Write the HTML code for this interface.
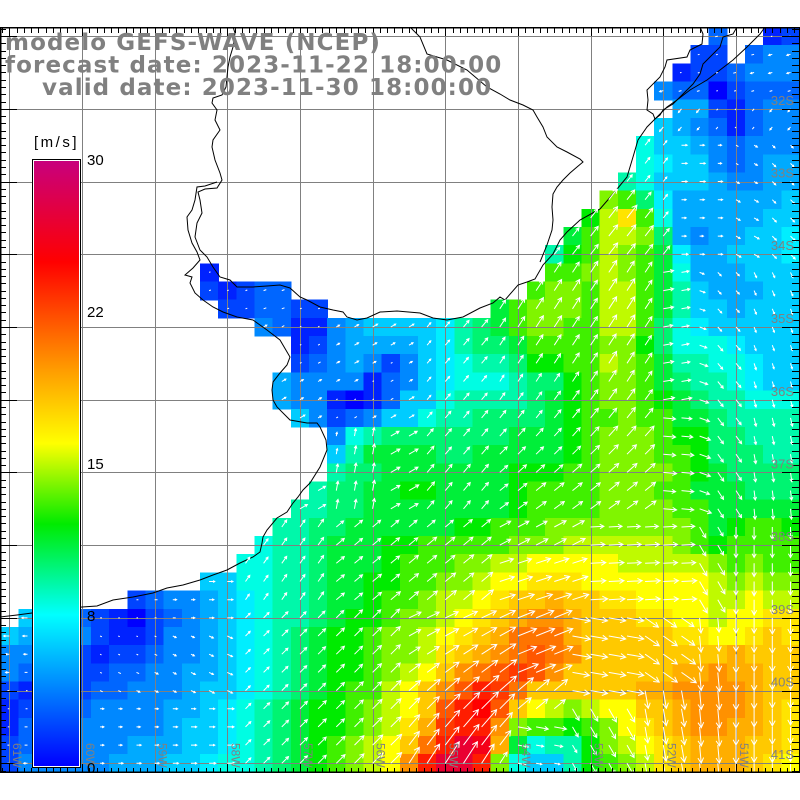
<!DOCTYPE html>
<html><head><meta charset="utf-8">
<style>
html,body{margin:0;padding:0;background:#fff;width:800px;height:800px;overflow:hidden}
svg{display:block}
</style></head>
<body>
<svg id="s" width="800" height="800" viewBox="0 0 800 800" xmlns="http://www.w3.org/2000/svg">
<defs>
<clipPath id="mc"><rect x="0" y="27" width="800" height="745"/></clipPath>
<linearGradient id="cb" x1="0" y1="1" x2="0" y2="0">
 <stop offset="0" stop-color="rgb(0,0,255)"/>
 <stop offset="0.25" stop-color="rgb(0,255,255)"/>
 <stop offset="0.4" stop-color="rgb(0,235,0)"/>
 <stop offset="0.5333" stop-color="rgb(255,255,0)"/>
 <stop offset="0.65" stop-color="rgb(255,160,0)"/>
 <stop offset="0.8333" stop-color="rgb(255,0,0)"/>
 <stop offset="1" stop-color="rgb(200,0,125)"/>
</linearGradient>
</defs>
<rect x="0" y="0" width="800" height="800" fill="#fff"/>
<g id="cells" clip-path="url(#mc)" shape-rendering="crispEdges"></g>
<path id="grid" fill="none" stroke="#808080" stroke-width="1" shape-rendering="crispEdges" d=""/>
<g fill="none" stroke="#000" stroke-width="1" clip-path="url(#mc)">
<polyline points="233,27 235,33 233,47 230,57 228,67 227,77 226,87 222,95 213,98 212,103 217,110 215,120 220,130 213,140 212,147 215,160 220,173 222,180 217,188 205,189 198,192 200,200 202,213 197,223 195,237 200,250 207,257 213,267 220,277 230,280 237,287 253,287 267,286 280,285 290,288 300,297 307,300 320,307 333,310 343,312 347,317 357,320 367,318 380,312 397,311 420,313 433,318 447,320 463,317 480,308 493,303 500,297 505,300 518,285 527,282 535,279 543,265 553,254 560,240 567,232 580,220 600,209 613,194 627,177 633,157 638,140 647,127 657,117 667,107 677,100 690,90 707,80 720,70 733,60 747,47 760,34 765,27"/>
<polyline points="217,182 205,186 197,187 195,200 192,210 187,217 188,230 192,243 197,252 200,260 193,268 185,275 192,277 190,283 195,293 203,300 213,307 223,312 237,317 253,320 267,330 280,340 290,357 287,365 280,373 273,382 272,390 273,400 277,407 290,420 307,423 317,423 320,427 326,440 327,450 320,467 310,483 303,490 298,497 293,503 287,512 277,518 267,530 263,537 262,543 260,552 253,557 240,563 227,570 213,575 200,580 183,585 167,588 153,593 133,597 113,600 97,606 82,607 32,613 17,615 0,617"/>
<polyline points="410,27 420,37 427,54 447,60 467,70 487,87 500,94 510,100 523,105 533,110 537,117 543,127 547,137 557,147 567,152 580,159 583,162 577,167 570,173 563,180 557,187 553,194 552,207 553,220 552,230 547,245 540,262"/>
<polyline points="700,27 703,34 702,44 690,50 687,57 667,60 665,67 660,77 647,90 648,100 647,110 653,114 655,119 660,115 663,110 673,104 683,94 693,84 700,74 703,64 713,54 720,47 723,37 733,34 737,27"/>
</g>
<path id="arr" clip-path="url(#mc)" fill="none" stroke="#fff" stroke-width="1" d=""/>
<path id="ticks" fill="none" stroke="#000" stroke-width="1" shape-rendering="crispEdges" d=""/>
<path fill="none" stroke="#000" stroke-width="1.5" shape-rendering="crispEdges" d="M0 27.5H800M0 772H800M0.5 27V772M799.5 27V772"/>
<g fill="#808080" font-family="Liberation Sans, DejaVu Sans, sans-serif" font-size="13" text-anchor="end">
<text x="794" y="105">32S</text><text x="794" y="177.5">33S</text><text x="794" y="250">34S</text><text x="794" y="323">35S</text><text x="794" y="396">36S</text><text x="794" y="468.5">37S</text><text x="794" y="541">38S</text><text x="794" y="614">39S</text><text x="794" y="686.5">40S</text><text x="794" y="759">41S</text>
</g>
<g fill="#808080" font-family="Liberation Sans, DejaVu Sans, sans-serif" font-size="12">
<text transform="translate(13,743) rotate(90)">61W</text>
<text transform="translate(86,743) rotate(90)">60W</text>
<text transform="translate(158.6,743) rotate(90)">59W</text>
<text transform="translate(231.3,743) rotate(90)">58W</text>
<text transform="translate(304,743) rotate(90)">57W</text>
<text transform="translate(376.6,743) rotate(90)">56W</text>
<text transform="translate(449.3,743) rotate(90)">55W</text>
<text transform="translate(522,743) rotate(90)">54W</text>
<text transform="translate(594.6,743) rotate(90)">53W</text>
<text transform="translate(667.3,743) rotate(90)">52W</text>
<text transform="translate(740,743) rotate(90)">51W</text>
</g>
<rect x="32.5" y="159.5" width="48" height="608" fill="#fff" stroke="#000" stroke-width="1"/>
<rect x="34" y="161" width="45" height="605" fill="url(#cb)"/>
<g fill="#000" font-family="Liberation Sans, DejaVu Sans, sans-serif" font-size="15">
<text x="34" y="147" letter-spacing="2.5">[m/s]</text>
<text x="87" y="165">30</text>
<text x="87" y="317">22</text>
<text x="87" y="469">15</text>
<text x="87" y="621">8</text>
<text x="87" y="773">0</text>
</g>
<g fill="#808080" font-family="DejaVu Sans, Liberation Sans, sans-serif" font-weight="bold" font-size="23" letter-spacing="1.1">
<text x="5" y="50">modelo GEFS-WAVE (NCEP)</text>
<text x="5" y="72.5">forecast date: 2023-11-22 18:00:00</text>
<text x="42" y="95">valid date: 2023-11-30 18:00:00</text>
</g>
</svg>
<script>
(function(){
var D=function(n){return new Array(n+1).join('.');};
var R=[
[39,"3..12"],
[38,"22.344"],
[37,"1223444"],
[36,"43302333"],
[37,"5521344"],
[36,"65431344"],
[35,"866543444"],
[35,"876643455"],
[34,"9866654455"],
[33,"eda75555556"],
[32,"cfhd85555566"],
[31,"bdffea5455667"],
[30,"9cdfedb7556667"],
[11,"1"+D(18)+"ddefedb8555666"],
[11,"21233"+D(13)+"deedffdb9655566"],
[12,"223322"+D(9)+"bdeeedffdb9665666"],
[14,"431145666679abdeeddffda8766666"],
[16,"1245555679aabddddeeca8887666"],
[16,"2345424678"+"99accddfedb9988766"],
[15,"5444413467"+"8889aacdee"+"dba998766"],
[15,"5441013668"+"9999abcdee"+"dcba99888"],
[16,"6423466899"+"aaaabcddeddbba9999"],
[18,"489aaaaaaa"+"bbbcdeeedcc"+"aa999"],
[18,"69bbbbaabb"+"bbbcdeeeddc"+"aaa99"],
[18,"9aabbbbbbb"+"cccddeeeedc"+"baaaa"],
[17,"9aabbccbbb"+"bcddddeeeddb"+"bbaaa"],
[16,"99aabbbbbb"+"bbcddddeeeedd"+"bbbbb"],
[15,"99aabbbbbb"+"ccdddeeeeeeeed"+"bcddc"],
[14,"899abbbccd"+"ddddeeeffffffed"+"cdddd"],
[13,"8899abbbcd"+"ddeeffgggggfffff"+"ededd"],
[11,"668899abbc"+"cddeefgghh"+"hgggggggfe"+"fee"],
[7,"2344567899"+"abbcddeffg"+"hiijiihhgg"+"ggffgff"],
[0,".633321023"+"4567899abc"+"cdeefghijk"+"kjiiihhggf"+"gghh"],
[0,"6544421124"+"456789abcc"+"deefghijll"+"ljiiiiihhg"+"ghih"],
[0,"4433212234"+"456789abcc"+"deefhijklm"+"lkiiiiiiii"+"jiii"],
[0,"4333223344"+"556789abcc"+"defgiklmnm"+"kiiiiiijjk"+"jjii"],
[0,"2122233444"+"566789abcd"+"dfgikmonli"+"iiiiijjkkk"+"kjii"],
[0,"1233344445"+"56789abccd"+"efgimopmig"+"fefggiijkk"+"kjih"],
[0,"1333444445"+"66789abccd"+"efhjnooked"+"dcdeghijkk"+"jjih"],
[0,"2344444555"+"66789abcde"+"fgilorqjb8"+"99cefghijj"+"jiih"],
[0,"2444445556"+"67889abcde"+"fgkorroe86"+"69cdefhijj"+"jihg"]
];
var S=[[0,0,0,255],[7.5,0,255,255],[12,0,235,0],[16,255,255,0],[19.5,255,160,0],[25,255,0,0],[30,200,0,125]];
function col(v){for(var k=1;k<S.length;k++){if(v<=S[k][0]){var a=S[k-1],b=S[k],t=(v-a[0])/(b[0]-a[0]);return 'rgb('+Math.round(a[1]+(b[1]-a[1])*t)+','+Math.round(a[2]+(b[2]-a[2])*t)+','+Math.round(a[3]+(b[3]-a[3])*t)+')';}}return 'rgb(200,0,125)';}
function ang(i,j){
 if(j<=5){return j<=3?195:230;}
 if(j<=12){if(i>=42)return -45;if(i>=40)return -30;if(i>=37)return 0;return 52;}
 if(j<=26){
  if(i>=41)return -65-(j-13)*1.5;
  if(i>=39)return -45-(j-13);
  if(i==38)return -20;
  if(i>=36)return j<=20?10:-5;
  if(i>=27)return j<=19?57:57-(j-19)*3;
  if(i>=18&&i<=20&&j>=22)return 80;
  if(j<=15)return 20;
  if(i<=22)return 30;
  return 50;
 }
 if(i>=40)return -90;
 if(i>=38)return j<=31?-60:-85;
 if(j<=31){if(i>=32)return 3;if(i>=27)return j<=28?28:18;if(i>=18)return 40;if(i>=13)return 55;return 0;}
 if(i>=35)return j<=35?-35:-80;
 if(i>=31)return j<=36?-10:-60;
 if(i>=28){if(j>=38)return -10;return j<=35?22:40;}
 if(i>=22)return 25+(j-32)*4;
 if(i>=13)return 45;
 if(i<=1)return 180;
 return (j>=33&&j<=36)?-25:0;
}
var NS='http://www.w3.org/2000/svg';
var g=document.getElementById('cells');
var cw=18.167,ch=18.18,ad='';
function f(n){return Math.round(n*10)/10;}
for(var j=0;j<R.length;j++){
 var s=R[j][0],str=R[j][1];
 for(var q=0;q<str.length;q++){
  var c=str.charAt(q);if(c=='.')continue;
  var i=s+q,v=parseInt(c,36);
  var r=document.createElementNS(NS,'rect');
  var x0=0.2+cw*i,y0=27+ch*j;
  r.setAttribute('x',f(x0));r.setAttribute('y',f(y0));
  r.setAttribute('width',f(cw+0.6));r.setAttribute('height',f(ch+0.6));
  r.setAttribute('fill',col(v));
  g.appendChild(r);
  var cx=9.3+cw*i,cy=36.1+ch*j;
  if(i>=2&&i<=4&&j>=7)continue;
  var a=ang(i,j)*Math.PI/180;
  var L=Math.max(1.5,v*0.95);
  var tx=cx+L*Math.cos(a),ty=cy-L*Math.sin(a);
  ad+='M'+f(cx)+' '+f(cy)+'L'+f(tx)+' '+f(ty);
  if(L>3){
   var h=Math.min(6,Math.max(2,L*0.35));
   var b1=a+Math.PI-0.5,b2=a+Math.PI+0.5;
   ad+='M'+f(tx+h*Math.cos(b1))+' '+f(ty-h*Math.sin(b1))+'L'+f(tx)+' '+f(ty)+'L'+f(tx+h*Math.cos(b2))+' '+f(ty-h*Math.sin(b2));
  }
 }
}
document.getElementById('arr').setAttribute('d',ad);
var gd='';
for(var k=0;k<=10;k++){var x=Math.round(9.3+72.67*k)+0.5;gd+='M'+x+' 27V772';var y=Math.round(36.1+72.73*k)+0.5;gd+='M0 '+y+'H800';}
document.getElementById('grid').setAttribute('d',gd);
var t='';
for(var k=-1;k<=101;k++){var y=36.1+7.273*k;if(y<27||y>772)continue;var M=(k%10==0);y=Math.round(y)+0.5;t+='M0 '+y+'H'+(M?17:6)+'M800 '+y+'H'+(M?782:792);}
for(var k=-2;k<=109;k++){var x=9.3+7.267*k;if(x<0||x>800)continue;var M=(k%10==0);x=Math.round(x)+0.5;t+='M'+x+' 772V'+(M?764:768)+'M'+x+' 27V'+(M?36:33);}
document.getElementById('ticks').setAttribute('d',t);
})();
</script>
</body></html>
